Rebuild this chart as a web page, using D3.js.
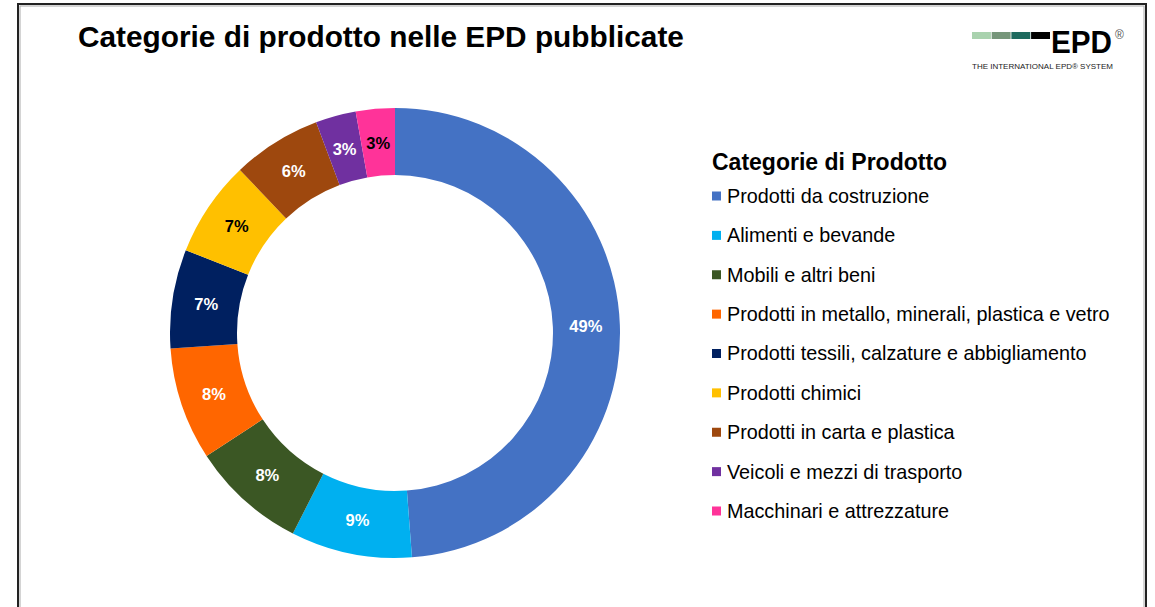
<!DOCTYPE html>
<html><head><meta charset="utf-8">
<script src="https://cdn.jsdelivr.net/npm/d3@7"></script>
<style>body{margin:0;background:#fff}svg{display:block}text{font-family:"Liberation Sans",Arial,sans-serif}</style>
</head><body>
<svg id="c" width="1155" height="607"></svg>
<script>
const categories = ["Prodotti da costruzione","Alimenti e bevande","Mobili e altri beni","Prodotti in metallo, minerali, plastica e vetro","Prodotti tessili, calzature e abbigliamento","Prodotti chimici","Prodotti in carta e plastica","Veicoli e mezzi di trasporto","Macchinari e attrezzature"];
const values = [48.8, 8.7, 8.3, 8.1, 7.1, 6.9, 6.4, 2.9, 2.8];
const colors = ["#4472C4","#00B0F0","#3B5724","#FF6600","#002060","#FFC000","#9E480E","#7030A0","#FF3399"];
const labelColors = ["#fff","#fff","#fff","#fff","#fff","#000","#fff","#fff","#000"];
const title = "Categorie di prodotto nelle EPD pubblicate";
const legendTitle = "Categorie di Prodotto";

const svg = d3.select("#c");
// frame
svg.append("rect").attr("x",18).attr("y",4).attr("width",1128).attr("height",640)
  .attr("fill","none").attr("stroke","#222").attr("stroke-width",2);
svg.append("rect").attr("x",20).attr("y",6).attr("width",1124).attr("height",640)
  .attr("fill","none").attr("stroke","#aaa").attr("stroke-width",1);

svg.append("text").attr("x",78).attr("y",47).attr("font-size",29.8).attr("font-weight","bold")
  .attr("fill","#000").text(title);

// logo
const logoCols = ["#A9D2AE","#76967A","#1E6A5E","#000"];
const lx = d3.scaleBand().domain(d3.range(4)).range([972,1050]).paddingInner(0.04);
svg.append("g").selectAll("rect").data(logoCols).join("rect")
  .attr("x",(d,i)=>lx(i)).attr("y",32).attr("width",lx.bandwidth()).attr("height",7).attr("fill",d=>d);
svg.append("text").attr("x",1051).attr("y",53).attr("font-size",31).attr("font-weight","bold")
  .attr("textLength",61).attr("lengthAdjust","spacingAndGlyphs").text("EPD");
svg.append("text").attr("x",1115).attr("y",39).attr("font-size",12).attr("fill","#555").text("®");
svg.append("text").attr("x",972).attr("y",69).attr("font-size",7.5).attr("fill","#222")
  .attr("textLength",141).attr("lengthAdjust","spacingAndGlyphs").text("THE INTERNATIONAL EPD® SYSTEM");

// donut
const cx = 395, cy = 333, R = 225, r = 158;
const pie = d3.pie().sort(null).value(d=>d)(values);
const arc = d3.arc().innerRadius(r).outerRadius(R);
const labelArc = d3.arc().innerRadius(191).outerRadius(191);
const g = svg.append("g").attr("transform",`translate(${cx},${cy})`);
g.selectAll("path").data(pie).join("path").attr("d",arc).attr("fill",(d,i)=>colors[i]);
g.selectAll("text").data(pie).join("text")
  .attr("transform",d=>`translate(${labelArc.centroid(d)})`)
  .attr("text-anchor","middle").attr("dy","0.36em").attr("font-size",16.5).attr("font-weight","bold")
  .attr("fill",(d,i)=>labelColors[i]).text(d=>Math.round(d.value)+"%");

// legend
svg.append("text").attr("x",712).attr("y",170).attr("font-size",23).attr("font-weight","bold").text(legendTitle);
const ly = d3.scalePoint().domain(categories).range([196,511]);
const lg = svg.append("g").selectAll("g").data(categories).join("g")
  .attr("transform",d=>`translate(712,${ly(d)})`);
lg.append("rect").attr("x",0).attr("y",-4.5).attr("width",9).attr("height",9).attr("fill",(d,i)=>colors[i]);
lg.append("text").attr("x",15).attr("dy","0.35em").attr("font-size",19.8).attr("fill","#000").text(d=>d);
</script>
</body></html>
